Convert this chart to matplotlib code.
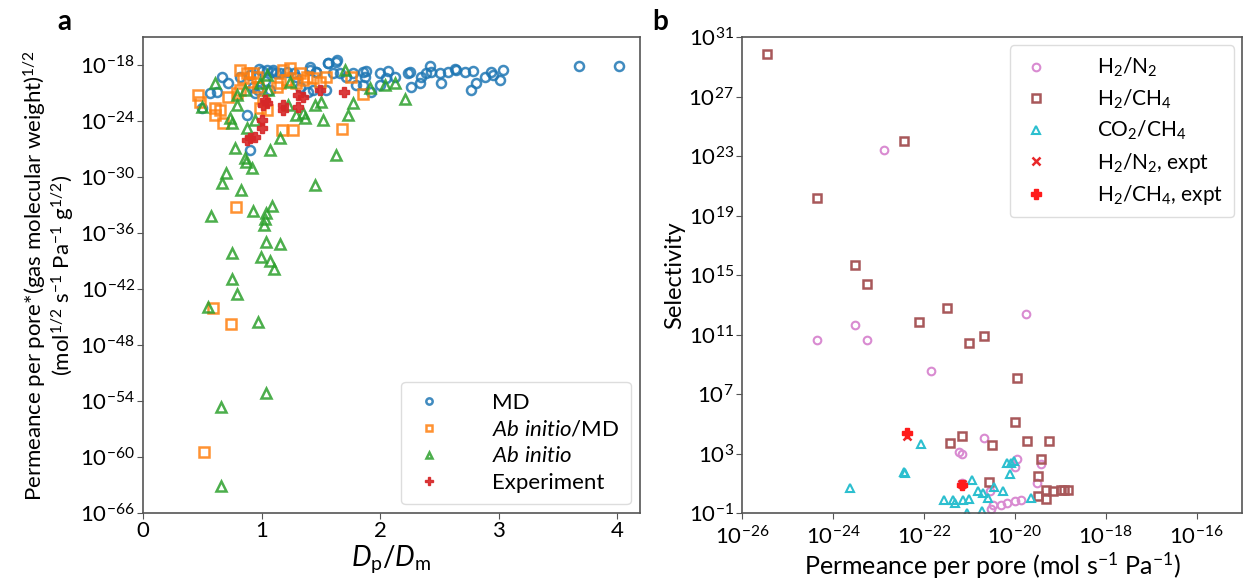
import numpy as np
import matplotlib
matplotlib.use("Agg")
import matplotlib.pyplot as plt

plt.rcParams['font.family'] = ['Lato', 'DejaVu Sans']
plt.rcParams['mathtext.fontset'] = 'custom'
plt.rcParams['mathtext.rm'] = 'Lato'
plt.rcParams['mathtext.it'] = 'Lato:italic'
plt.rcParams['mathtext.bf'] = 'Lato:bold'

# ---------------- Panel a data: x = Dp/Dm, y = log10(permeance*sqrt(M)) ----------------
md_x = [1.407, 1.463, 1.561, 1.640, 1.603, 1.660, 1.716, 1.772, 1.856, 1.884, 1.870, 1.800,
        1.856, 1.926, 1.997, 2.067, 2.053, 2.123, 1.997, 2.235, 2.249, 2.263, 2.334, 2.348,
        2.390, 2.418, 2.432, 2.502, 2.516, 2.572, 2.628, 2.642, 2.713, 2.783, 2.769, 2.811,
        2.881, 2.937, 2.951, 3.008, 3.036, 3.676, 4.013,
        0.663, 0.719, 0.564, 0.621, 0.494, 0.817, 0.901, 1.042, 1.084, 1.154, 1.210, 1.294,
        1.407, 1.463, 1.547, 1.561, 1.631, 1.393, 0.943, 0.873, 0.901, 0.93, 0.97, 1.32,
        1.27, 1.03, 1.07, 1.43, 0.98, 1.10, 1.00, 1.12]
md_logy = [-18.29, -18.76, -17.79, -17.51, -18.93, -18.93, -19.29, -18.93, -18.76, -18.65,
           -19.29, -20.18, -20.18, -20.90, -18.93, -18.65, -19.47, -19.29, -20.18, -18.93,
           -18.76, -20.36, -20.01, -19.29, -18.93, -18.15, -18.76, -18.93, -20.01, -18.76,
           -18.51, -18.58, -18.83, -18.65, -20.72, -19.93, -19.36, -18.76, -19.11, -19.65,
           -18.58, -18.15, -18.15,
           -19.29, -19.93, -21.08, -20.90, -22.68, -19.29, -19.11, -18.58, -18.76, -18.93,
           -18.76, -19.29, -18.58, -18.76, -20.72, -17.86, -17.69, -20.90, -21.08, -23.40,
           -27.14, -20.36, -20.72, -20.36, -18.93, -19.8, -20.7, -20.7, -18.5, -18.6, -18.7,
           -18.9]

abmd_x = [0.466, 0.480, 0.606, 0.606, 0.649, 0.677, 0.719, 0.789, 0.817, 0.817, 0.873,
          0.929, 0.845, 0.901, 0.957, 0.986, 1.042, 1.126, 1.154, 1.182, 1.238, 1.210,
          1.294, 1.323, 1.351, 1.379, 1.435, 1.491, 1.547, 0.972, 1.014, 1.168, 1.266,
          1.679, 1.851, 1.758, 0.783, 0.592, 0.738, 0.514]
abmd_logy = [-21.26, -21.97, -22.68, -23.40, -22.86, -24.29, -21.43, -21.08, -20.72, -18.58,
             -18.93, -18.93, -19.47, -19.83, -19.29, -22.68, -22.86, -20.36, -20.01, -18.58,
             -18.40, -19.65, -20.01, -18.93, -19.65, -19.29, -19.47, -19.83, -19.29, -20.36,
             -21.79, -25.0, -25.0, -24.93, -21.15, -19.36, -33.28, -44.10, -45.77, -59.51]

ab_x = [0.607, 0.494, 0.733, 0.747, 0.789, 0.789, 0.859, 0.873, 0.943, 0.986, 1.042, 1.056,
        1.154, 1.224, 1.238, 1.294, 1.351, 1.365, 1.449, 1.505, 1.519, 0.775, 1.070, 0.859,
        1.631, 1.702, 1.730, 1.772, 1.912, 2.039, 2.123, 2.213,
        0.868, 0.915, 0.699, 0.663, 0.825, 1.449, 0.573, 0.929, 1.084, 1.036, 1.028, 1.022,
        1.033, 1.154, 0.752, 0.991, 1.070, 1.103, 0.752, 0.789, 0.550, 0.971,
        1.036, 0.654, 0.654]
ab_logy = [-20.01, -22.50, -23.75, -24.29, -21.25, -22.33, -20.72, -24.82, -23.93, -20.01,
           -19.11, -20.72, -25.89, -22.33, -19.83, -23.40, -23.22, -23.75, -22.33, -21.97,
           -23.93, -26.97, -27.14, -28.04, -27.68, -18.58, -23.40, -22.15, -20.54, -20.18,
           -20.01, -21.72,
           -28.39, -29.11, -29.64, -30.71, -31.43, -30.89, -34.21, -33.64, -33.14, -33.92,
           -34.53, -35.17, -37.03, -37.24, -38.14, -38.56, -39.03, -39.92, -40.95, -42.60,
           -43.92, -45.52, -53.12, -54.70, -63.12]

exp_x = [1.028, 1.042, 1.014, 1.182, 1.182, 1.308, 1.351, 1.308, 1.491, 1.000, 1.000,
         0.901, 0.943, 0.873, 1.696]
exp_logy = [-21.79, -22.15, -22.33, -22.33, -22.86, -21.25, -21.43, -22.50, -20.72, -23.93,
            -24.82, -25.89, -25.72, -26.07, -20.97]

# ---------------- Panel b data: log10(permeance), log10(selectivity) ----------------
h2n2_logx = [-22.88, -24.35, -23.26, -23.52, -19.75, -21.84, -20.67, -21.23, -21.15, -19.95,
             -20.0, -19.42, -19.5, -21.17, -20.55, -20.53, -20.47, -20.3, -20.16, -20.0, -19.87]
h2n2_logy = [23.43, 10.6, 10.6, 11.67, 12.41, 8.57, 4.03, 3.1, 3.0, 2.6, 2.1, 2.27, 1.05,
             1.03, 0.48, -0.76, -0.46, -0.46, -0.34, -0.2, -0.1]

h2ch4_logx = [-25.44, -22.43, -19.75, -24.35, -23.52, -23.26, -21.5, -22.1, -20.67, -21.01,
              -19.95, -20.0, -21.17, -21.42, -20.49, -19.72, -19.25, -19.42, -19.49, -20.57,
              -19.48, -19.32, -19.32, -19.15, -18.99, -18.91, -18.82]
h2ch4_logy = [29.88, 24.03, 23.56, 20.2, 15.67, 14.42, 12.8, 11.84, 10.9, 10.4, 8.05, 5.1,
              4.2, 3.7, 3.6, 3.85, 3.85, 2.64, 1.52, 1.07, 0.13, -0.09, 0.53, 0.48, 0.53,
              0.53, 0.53]

co2ch4_logx = [-23.63, -22.43, -22.42, -22.06, -20.16, -20.08, -20.02, -20.1, -20.93, -20.45,
               -20.25, -20.8, -20.69, -20.58, -21.56, -21.36, -21.31, -21.13, -21.01, -21.05,
               -20.73, -19.65]
co2ch4_logy = [0.68, 1.77, 1.67, 3.63, 2.34, 2.39, 2.5, 1.6, 1.22, 0.78, 0.48, 0.48, 0.36,
               0.03, -0.1, -0.14, -0.32, -0.14, -0.07, -1.0, -0.89, 0.0]

h2n2_exp_logx = [-22.36, -21.15]
h2n2_exp_logy = [4.2, 0.98]
h2ch4_exp_logx = [-22.36, -21.15]
h2ch4_exp_logy = [4.4, 0.85]

# ---------------- Figure ----------------
fig = plt.figure(figsize=(12.45, 5.79), dpi=100)
axa = fig.add_axes([0.1149, 0.114, 0.399, 0.822])
axb = fig.add_axes([0.596, 0.114, 0.4016, 0.822])

spine_col = '#555555'
for ax in (axa, axb):
    for s in ax.spines.values():
        s.set_color(spine_col)
        s.set_linewidth(1.2)
    ax.tick_params(which='both', labelsize=16, color=spine_col, length=4, pad=2)
    ax.minorticks_off()

def pw(v):
    return np.power(10.0, np.asarray(v))

ms_a = 6.5
axa.plot(md_x, pw(md_logy), 'o', ls='none', mfc='none', mec='#1f77b4', mew=1.8, ms=ms_a,
         alpha=0.85, label='MD')
axa.plot(abmd_x, pw(abmd_logy), 's', ls='none', mfc='none', mec='#ff7f0e', mew=1.8, ms=ms_a,
         alpha=0.85, label=r'$\mathit{Ab\ initio}$/MD')
axa.plot(ab_x, pw(ab_logy), '^', ls='none', mfc='none', mec='#2ca02c', mew=1.8, ms=ms_a,
         alpha=0.85, label=r'$\mathit{Ab\ initio}$')
axa.plot(exp_x, pw(exp_logy), 'P', ls='none', mfc='#d62728', mec='#d62728', ms=ms_a + 1,
         alpha=0.9, label='Experiment')
axa.set_yscale('log')
axa.set_xlim(0, 4.19)
axa.set_ylim(1e-66, 10**-15.05)
axa.set_yticks([10.0**k for k in range(-66, -17, 6)])
axa.minorticks_off()
axa.set_xticks([0, 1, 2, 3, 4])
axa.set_xlabel(r'$D_\mathrm{p}/D_\mathrm{m}$', fontsize=20, labelpad=1)
axa.set_ylabel('Permeance per pore*(gas molecular weight)$^{1/2}$\n'
               '(mol$^{1/2}$ s$^{-1}$ Pa$^{-1}$ g$^{1/2}$)', fontsize=16, labelpad=3,
               linespacing=1.05)
leg = axa.legend(loc='lower right', fontsize=16, handletextpad=2.1, borderpad=0.5,
                 labelspacing=0.3, handlelength=1.5, markerscale=0.7, framealpha=1,
                 borderaxespad=0.4)
leg.get_frame().set_edgecolor('#dddddd')

ms_b = 5.5
axb.plot(pw(h2n2_logx), pw(h2n2_logy), 'o', ls='none', mfc='none', mec='#d98bd1', mew=1.5,
         ms=ms_b, label='H$_2$/N$_2$')
axb.plot(pw(h2ch4_logx), pw(h2ch4_logy), 's', ls='none', mfc='none', mec='#a8585a', mew=1.8,
         ms=ms_b, label='H$_2$/CH$_4$')
axb.plot(pw(co2ch4_logx), pw(co2ch4_logy), '^', ls='none', mfc='none', mec='#2cbfcf', mew=1.5,
         ms=ms_b, label='CO$_2$/CH$_4$')
axb.plot(pw(h2n2_exp_logx), pw(h2n2_exp_logy), 'x', ls='none', mec='#e8282a', mew=1.8,
         ms=ms_b, label='H$_2$/N$_2$, expt')
axb.plot(pw(h2ch4_exp_logx), pw(h2ch4_exp_logy), 'P', ls='none', mfc='#ff1a1a', mec='#ff1a1a',
         ms=ms_b + 1.5, label='H$_2$/CH$_4$, expt')
axb.set_xscale('log')
axb.set_yscale('log')
axb.set_xlim(1e-26, 1e-15)
axb.set_ylim(1e-1, 1e31)
axb.set_xticks([10.0**k for k in range(-26, -15, 2)])
axb.set_yticks([10.0**k for k in range(-1, 32, 4)])
axb.minorticks_off()
axb.tick_params(axis='both', labelsize=16)
axb.tick_params(axis='x', pad=5)
axb.set_xlabel('Permeance per pore (mol s$^{-1}$ Pa$^{-1}$)', fontsize=18, labelpad=1)
axb.set_ylabel('Selectivity', fontsize=17, labelpad=2)
legb = axb.legend(loc='upper right', fontsize=15, handletextpad=2.2, borderpad=0.5,
                  labelspacing=0.4, handlelength=1.5, framealpha=1, borderaxespad=0.4)
legb.get_frame().set_edgecolor('#dddddd')

fig.text(0.046, 0.962, 'a', fontsize=20, fontweight='bold', ha='left', va='center')
fig.text(0.524, 0.962, 'b', fontsize=20, fontweight='bold', ha='left', va='center')

fig.savefig('out.png', dpi=100)
